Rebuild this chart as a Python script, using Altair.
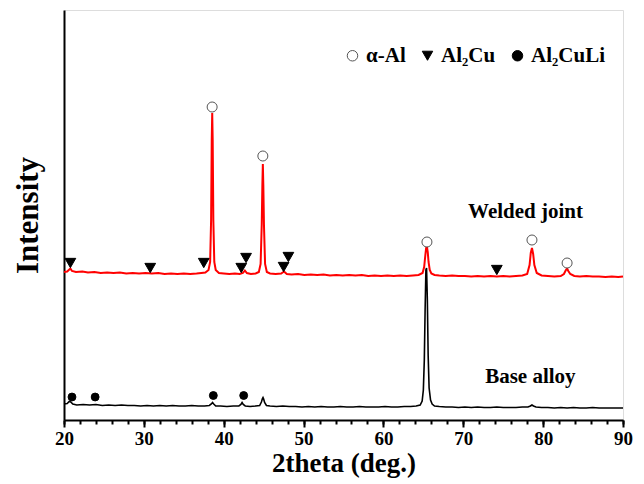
import altair as alt
import pandas as pd

# ---- data (intensity in arbitrary units) ----
red_x = [20.0, 20.4, 20.6, 20.8, 21.0, 21.5, 22.3, 23.0, 23.8, 24.6, 25.4, 26.2, 27.0, 27.8, 28.6, 29.4,
         30.2, 31.0, 31.8, 32.6, 33.4, 34.2, 35.0, 35.8, 36.6, 37.2, 37.7, 38.1, 38.3, 38.42, 38.5, 38.56,
         38.62, 38.7, 38.82, 39.0, 39.4, 40.0, 40.7, 41.4, 42.0, 42.4, 42.65, 42.9, 43.4, 44.0, 44.4, 44.62,
         44.76, 44.84, 44.9, 44.96, 45.04, 45.18, 45.4, 45.8, 46.5, 47.2, 47.55, 47.9, 48.5, 49.3, 50.1, 50.9,
         51.7, 52.5, 53.3, 54.1, 54.9, 55.7, 56.5, 57.3, 58.1, 58.9, 59.7, 60.5, 61.3, 62.1, 62.9, 63.7,
         64.4, 64.9, 65.1, 65.25, 65.35, 65.45, 65.55, 65.65, 65.8, 66.0, 66.4, 67.0, 67.8, 68.6, 69.4, 70.2,
         71.0, 71.8, 72.6, 73.4, 74.2, 75.0, 75.8, 76.6, 77.4, 78.0, 78.3, 78.45, 78.6, 78.75, 78.9, 79.2,
         79.8, 80.6, 81.4, 82.2, 82.6, 82.85, 83.0, 83.15, 83.4, 83.9, 84.6, 85.4, 86.2, 87.0, 87.8, 88.6,
         89.4, 90.0]
red_y = [148, 148.5, 150, 151.5, 149, 148, 148.5, 147.5, 148, 147, 147.5, 147, 147.5, 146.5, 147, 146.5,
         147, 146.5, 147, 146, 146.5, 146, 146.5, 146, 146.5, 147, 147.5, 150, 158, 200, 280, 307,
         280, 200, 158, 150, 147, 146.5, 146, 146.5, 146, 147, 149.5, 147, 146, 146.5, 148, 156,
         195, 235, 256, 235, 195, 156, 148, 146.5, 146, 146.5, 148.5, 146, 145.5, 146, 145, 145.5,
         145, 145.5, 144.5, 145, 144.5, 145, 144.5, 145, 144, 144.5, 144, 144.5, 144, 144.5, 144, 144.5,
         145, 147, 153, 165, 172, 173, 168, 158, 150, 146.5, 145, 144.5, 144, 144.5, 144, 144,
         143.5, 144, 143.5, 144, 143.5, 144, 143.5, 144, 144.5, 146, 155, 167, 172, 166, 155, 147,
         144.5, 144, 143.5, 144, 146, 150, 151.5, 149, 146, 144, 143.5, 144, 143.5, 143.5, 143, 143.5,
         143, 143.5]

black_x = [20.0, 20.4, 20.65, 20.85, 21.1, 21.6, 22.4, 23.2, 24.0, 24.8, 25.6, 26.4, 27.2, 28.0, 28.8, 29.6,
           30.4, 31.2, 32.0, 32.8, 33.6, 34.4, 35.2, 36.0, 36.8, 37.6, 38.2, 38.45, 38.6, 38.75, 39.0, 39.6,
           40.4, 41.2, 41.9, 42.15, 42.3, 42.45, 42.7, 43.3, 44.0, 44.5, 44.72, 44.85, 44.92, 45.0, 45.12, 45.35,
           45.8, 46.6, 47.4, 48.2, 49.0, 49.8, 50.6, 51.4, 52.2, 53.0, 53.8, 54.6, 55.4, 56.2, 57.0, 57.8,
           58.6, 59.4, 60.2, 61.0, 61.8, 62.6, 63.4, 64.1, 64.6, 64.85, 65.0, 65.12, 65.22, 65.32, 65.4, 65.5,
           65.6, 65.72, 65.9, 66.1, 66.4, 67.0, 67.8, 68.6, 69.4, 70.2, 71.0, 71.8, 72.6, 73.4, 74.2, 75.0, 75.8,
           76.6, 77.4, 78.1, 78.4, 78.6, 78.8, 79.1, 79.8, 80.6, 81.4, 82.2, 83.0, 83.8, 84.6, 85.4, 86.2,
           87.0, 87.8, 88.6, 89.4, 90.0]
black_y = [16, 16.5, 18.5, 18, 16, 15, 15.5, 15, 15.5, 14.5, 15, 14.5, 15, 14.5, 14.5, 14,
           14.5, 14, 14.5, 14, 14.5, 14, 14, 14.5, 14, 14, 14.5, 16, 17.5, 16, 14, 14,
           13.5, 14, 14, 15.5, 17.5, 15.5, 14, 13.5, 14, 14.5, 18, 21.5, 22.5, 21, 17.5, 14.5,
           14, 13.5, 14, 13.5, 13.5, 13, 13.5, 13, 13.5, 13, 13, 13.5, 13, 13, 13.5, 13,
           13, 13, 13.5, 13, 13, 13.5, 13.5, 14, 15, 19, 30, 60, 110, 150, 152, 120,
           65, 32, 20, 16, 14, 13.5, 13, 13, 12.5, 13, 12.5, 13, 12.5, 12.5, 13, 12.5, 12.5,
           12.5, 13, 13, 14, 15, 14, 13, 12.5, 12.5, 12, 12.5, 12, 12.5, 12, 12, 12.5,
           12, 12, 12, 12, 12]

phase_names = ["α-Al", "Al₂Cu", "Al₂CuLi"]
alal_x = [38.55, 44.9, 65.45, 78.6, 83.0]
alal_y = [313, 264, 178, 180, 157]
al2cu_x = [20.8, 30.8, 37.5, 42.2, 42.8, 47.5, 48.1, 74.2]
al2cu_y = [157, 152, 157, 152, 162, 153, 163, 150]
al2culi_x = [21.0, 23.9, 38.7, 42.5]
al2culi_y = [23, 23, 24.5, 24.5]

label_text = ["Welded joint", "Base alloy"]
label_x = [77.8, 78.4]
label_y = [208, 43]

x_major = [20, 30, 40, 50, 60, 70, 80, 90]
x_minor = list(range(20, 91, 2))

# ---- tables ----
red_df = pd.DataFrame({"x": red_x, "y": red_y})
black_df = pd.DataFrame({"x": black_x, "y": black_y})
mk_df = pd.concat([
    pd.DataFrame({"x": alal_x, "y": alal_y, "phase": phase_names[0]}),
    pd.DataFrame({"x": al2cu_x, "y": al2cu_y, "phase": phase_names[1]}),
    pd.DataFrame({"x": al2culi_x, "y": al2culi_y, "phase": phase_names[2]}),
], ignore_index=True)
lab_df = pd.DataFrame({"x": label_x, "y": label_y, "t": label_text})

FONT = "Liberation Serif"
xscale = alt.Scale(domain=[20, 90], nice=False, zero=False)
yscale = alt.Scale(domain=[0, 410], nice=False, zero=False)
yaxis = alt.Axis(title="Intensity", labels=False, ticks=False, grid=False, domain=True,
                 domainColor="black", domainWidth=2, titleFont=FONT, titleFontSize=31,
                 titleFontWeight="bold", titleColor="black", titlePadding=20)

x_main_axis = alt.Axis(orient="bottom", values=x_major, format="d", title="2theta (deg.)",
                       grid=False, domain=True, domainColor="black", domainWidth=2,
                       ticks=True, tickSize=7, tickWidth=2, tickColor="black",
                       labelFont=FONT, labelFontSize=19, labelFontWeight="bold", labelColor="black",
                       labelPadding=2, labelFlush=False,
                       titleFont=FONT, titleFontSize=27, titleFontWeight="bold", titleColor="black",
                       titleBaseline="alphabetic", titleY=51)
x_minor_axis = alt.Axis(orient="bottom", values=x_minor, title=None, labels=False, grid=False,
                        domain=False, ticks=True, tickSize=4, tickWidth=2, tickColor="black")

legend = alt.Legend(title=None, orient="none", legendX=278, legendY=35, direction="horizontal",
                    labelFont=FONT, labelFontSize=21, labelFontWeight="bold", labelColor="black",
                    symbolSize=110, symbolStrokeWidth=1, labelOffset=3, columnPadding=11, padding=0)

red = alt.Chart(red_df).mark_line(color="#ff0000", strokeWidth=2).encode(
    x=alt.X("x:Q", scale=xscale, axis=x_main_axis),
    y=alt.Y("y:Q", scale=yscale, axis=yaxis),
)
black = alt.Chart(black_df).mark_line(color="black", strokeWidth=1.6).encode(
    x=alt.X("x:Q", scale=xscale, axis=x_minor_axis),
    y=alt.Y("y:Q", scale=yscale, axis=yaxis),
)
markers = alt.Chart(mk_df).transform_calculate(
    sz="datum.phase == 'Al₂CuLi' ? 62 : (datum.phase == 'Al₂Cu' ? 115 : 100)"
).mark_point(opacity=1, strokeWidth=1).encode(
    x=alt.X("x:Q", scale=xscale, axis=None),
    y=alt.Y("y:Q", scale=yscale, axis=yaxis),
    shape=alt.Shape("phase:N", scale=alt.Scale(domain=phase_names, range=["circle", "triangle-down", "circle"]),
                    legend=legend),
    fill=alt.Fill("phase:N", scale=alt.Scale(domain=phase_names, range=["white", "black", "black"]),
                  legend=legend),
    stroke=alt.Stroke("phase:N", scale=alt.Scale(domain=phase_names, range=["#555555", "black", "black"]),
                      legend=legend),
    size=alt.Size("sz:Q", scale=None),
)
labels = alt.Chart(lab_df).mark_text(font=FONT, fontSize=21, fontWeight="bold", color="black",
                                     align="center", baseline="middle").encode(
    x=alt.X("x:Q", scale=xscale, axis=None),
    y=alt.Y("y:Q", scale=yscale, axis=yaxis),
    text="t:N",
)

chart = alt.layer(red, black, markers, labels).resolve_axis(x="independent").properties(
    width=559, height=410,
    autosize=alt.AutoSizeParams(type="none"),
    padding={"left": 64, "top": 10, "right": 21, "bottom": 64},
).configure_view(stroke="black", strokeWidth=2).configure(background="white")

chart.save("out.html", embed_options={"renderer": "svg", "actions": False})
